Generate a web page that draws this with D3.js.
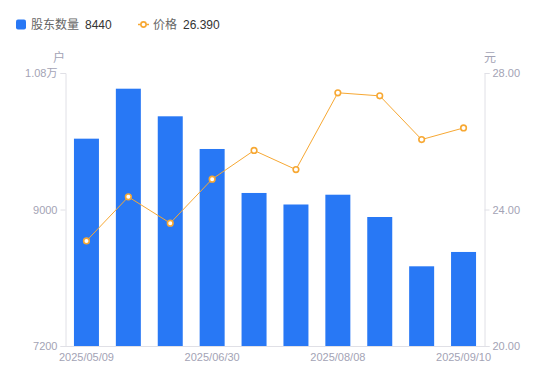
<!DOCTYPE html>
<html>
<head>
<meta charset="utf-8">
<script src="https://cdn.jsdelivr.net/npm/d3@7"></script>
<style>
  body { margin: 0; background: #fff; }
  svg { display: block; font-family: "Liberation Sans", "Noto Sans CJK SC", sans-serif; }
</style>
</head>
<body>
<div class="chart"></div>
<script>
// holders count (bars, left axis) and share price (line, right axis)
var dates = ["2025/05/09", "2025/05/20", "2025/06/10", "2025/06/30", "2025/07/10",
             "2025/07/20", "2025/08/08", "2025/08/20", "2025/08/29", "2025/09/10"];
var holders = [9934, 10593, 10229, 9798, 9218, 9066, 9195, 8901, 8251, 8440];
var prices = [23.08, 24.37, 23.60, 24.89, 25.73, 25.17, 27.42, 27.33, 26.05, 26.39];
var leftTicks = [7200, 9000, 10800];
var rightTicks = [20, 24, 28];
var shownDates = ["2025/05/09", "2025/06/30", "2025/08/08", "2025/09/10"];

var width = 550, height = 381;
var margin = {top: 73, right: 65.5, bottom: 35, left: 65.5};
var blue = "#2878f5", orange = "#f7a833", gray = "#a3a3b5", axisGray = "#e0e0e6";
var font = "'Liberation Sans', 'Noto Sans CJK SC', sans-serif";

var svg = d3.select(".chart")
            .append("svg")
            .attr("width", width)
            .attr("height", height);

var x = d3.scaleBand()
          .domain(dates)
          .range([margin.left, width - margin.right])
          .paddingInner(0.4)
          .paddingOuter(0.2);

var yLeft = d3.scaleLinear()
              .domain([7200, 10800])
              .range([height - margin.bottom, margin.top]);

var yRight = d3.scaleLinear()
               .domain([20, 28])
               .range([height - margin.bottom, margin.top]);

function fmtLeft(d) { return d >= 10000 ? (d / 10000).toFixed(2) + "万" : d; }

// left axis
var gl = svg.append("g")
   .attr("transform", "translate(" + margin.left + ",0)")
   .call(d3.axisLeft(yLeft).tickValues(leftTicks).tickFormat(fmtLeft).tickSize(5).tickPadding(3));

// right axis
var gr = svg.append("g")
   .attr("transform", "translate(" + (width - margin.right) + ",0)")
   .call(d3.axisRight(yRight).tickValues(rightTicks).tickFormat(d3.format(".2f")).tickSize(5).tickPadding(3));

// bottom axis
var gb = svg.append("g")
   .attr("transform", "translate(0," + (height - margin.bottom) + ")")
   .call(d3.axisBottom(x).tickValues(shownDates).tickSize(0).tickPadding(7));

[gl, gr, gb].forEach(function(g) {
  g.select(".domain").attr("stroke", axisGray);
  g.selectAll(".tick line").attr("stroke", axisGray);
  g.selectAll("text").attr("fill", gray).style("font-size", "11px")
   .style("font-family", font);
});

// unit labels
svg.append("text").attr("x", 59).attr("y", 62).attr("text-anchor", "middle")
   .attr("fill", gray).style("font-size", "12px").text("户");
svg.append("text").attr("x", 490).attr("y", 62).attr("text-anchor", "middle")
   .attr("fill", gray).style("font-size", "12px").text("元");

// bars
var bw = 25;
svg.append("g").selectAll("rect")
   .data(holders)
   .enter()
   .append("rect")
   .attr("x", function(d, i) { return x(dates[i]) + x.bandwidth() / 2 - bw / 2; })
   .attr("y", function(d) { return yLeft(d); })
   .attr("width", bw)
   .attr("height", function(d) { return yLeft(7200) - yLeft(d); })
   .attr("fill", blue);

// price line
var line = d3.line()
             .x(function(d, i) { return x(dates[i]) + x.bandwidth() / 2; })
             .y(function(d) { return yRight(d); });

svg.append("path")
   .datum(prices)
   .attr("d", line)
   .attr("fill", "none")
   .attr("stroke", orange)
   .attr("stroke-width", 1);

svg.append("g").selectAll("circle")
   .data(prices)
   .enter()
   .append("circle")
   .attr("cx", function(d, i) { return x(dates[i]) + x.bandwidth() / 2; })
   .attr("cy", function(d) { return yRight(d); })
   .attr("r", 2.8)
   .attr("fill", "#fff")
   .attr("stroke", orange)
   .attr("stroke-width", 1.6);

// legend
var lg = svg.append("g").style("font-size", "12px");
lg.append("rect").attr("x", 16).attr("y", 19.5).attr("width", 10).attr("height", 10)
  .attr("rx", 2).attr("fill", blue);
lg.append("text").attr("x", 31).attr("y", 29).attr("fill", "#666").text("股东数量");
lg.append("text").attr("x", 85).attr("y", 29).attr("fill", "#333").text(holders[holders.length - 1]);

lg.append("line").attr("x1", 138).attr("x2", 149).attr("y1", 24.5).attr("y2", 24.5)
  .attr("stroke", orange).attr("stroke-width", 1.5);
lg.append("circle").attr("cx", 143.5).attr("cy", 24.5).attr("r", 2.6)
  .attr("fill", "#fff").attr("stroke", orange).attr("stroke-width", 1.6);
lg.append("text").attr("x", 153).attr("y", 29).attr("fill", "#666").text("价格");
lg.append("text").attr("x", 183).attr("y", 29).attr("fill", "#333").text(prices[prices.length - 1].toFixed(3));
</script>
</body>
</html>
